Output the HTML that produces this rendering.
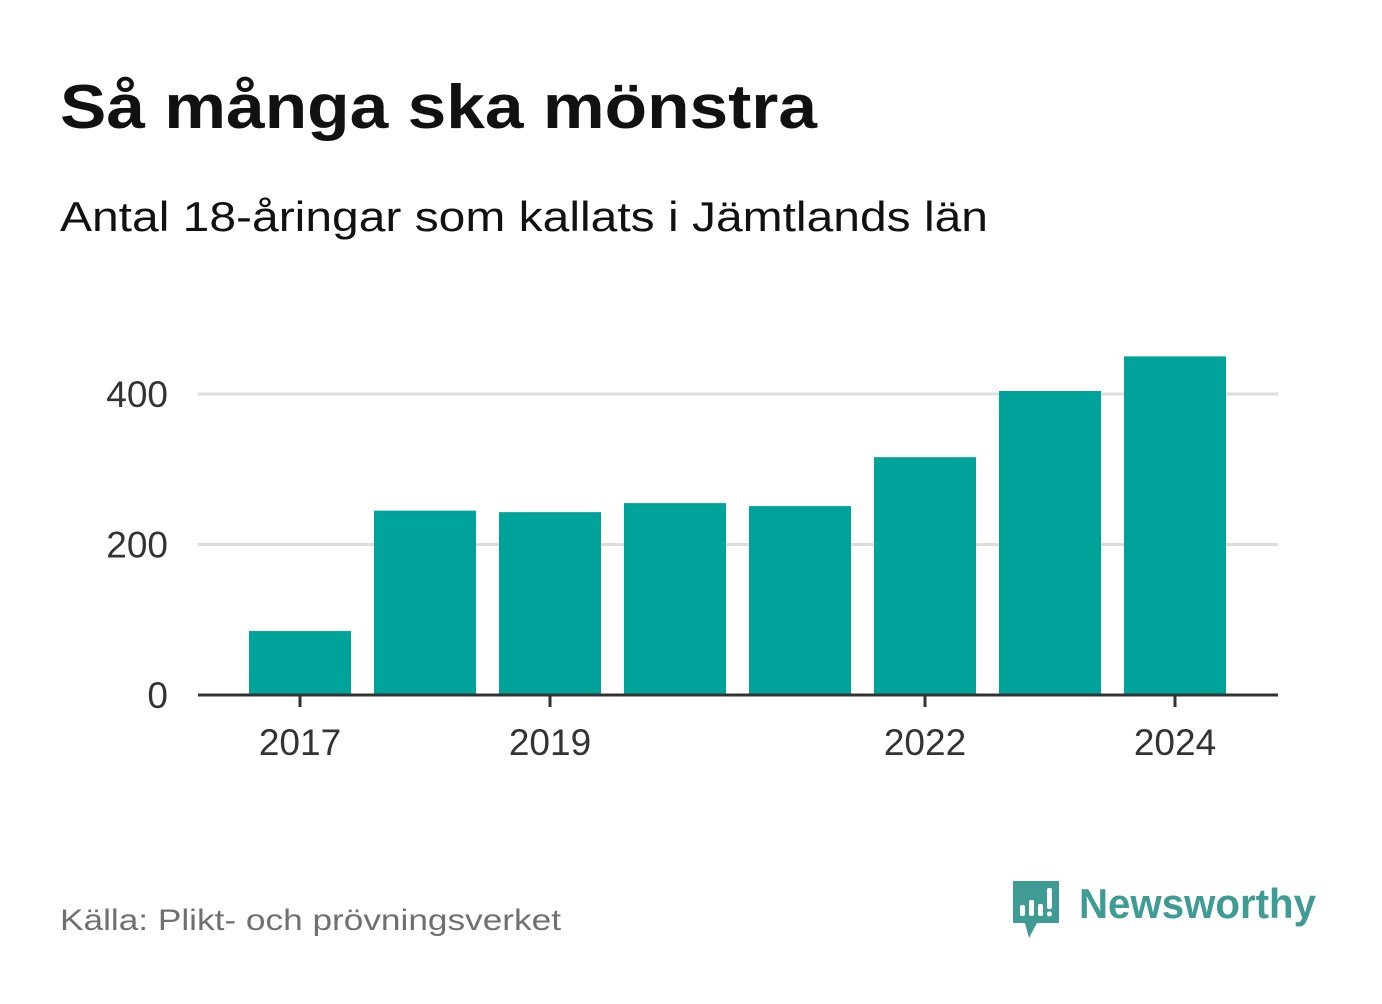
<!DOCTYPE html>
<html><head><meta charset="utf-8"><style>
body{margin:0;background:#fff;width:1382px;height:999px;overflow:hidden;font-family:"Liberation Sans","DejaVu Sans",sans-serif;}
</style></head><body>
<svg width="1382" height="999" xmlns="http://www.w3.org/2000/svg" id="chart">
<text x="60" y="128" font-size="62" font-weight="bold" fill="#111" textLength="757" lengthAdjust="spacingAndGlyphs">Så många ska mönstra</text>
<text x="60" y="231" font-size="42" fill="#111" textLength="928" lengthAdjust="spacingAndGlyphs">Antal 18-åringar som kallats i Jämtlands län</text>
<g id="grid"></g>
<g id="bars"></g>
<g id="axes"></g>
<text x="60" y="930" font-size="30" fill="#707070" textLength="501" lengthAdjust="spacingAndGlyphs">Källa: Plikt- och prövningsverket</text>
<g>
<path d="M1013 881h46v42h-22l-8 15-4-15h-12z" fill="#3f9c94"/>
<rect x="1020" y="905" width="5" height="11" fill="#fff" rx="2"/>
<rect x="1029" y="900" width="5" height="16" fill="#fff" rx="2"/>
<rect x="1038" y="904" width="5" height="12" fill="#fff" rx="2"/>
<rect x="1047" y="888" width="5" height="21" fill="#fff" rx="2"/>
<circle cx="1049.5" cy="914" r="2.5" fill="#fff"/>
<text x="1079" y="918" font-size="42" font-weight="bold" fill="#3f9c94" textLength="237" lengthAdjust="spacingAndGlyphs">Newsworthy</text>
</g>
</svg>
<script>
const years=[2017,2018,2019,2020,2021,2022,2023,2024];
const values=[85,245,243,255,251,316,404,450];
const yTicks=[0,200,400];
const xTickYears=[2017,2019,2022,2024];
const NS="http://www.w3.org/2000/svg";
const y0=695,pxPerUnit=0.7525,x0=300,step=125,bw=102;
const yS=v=>y0-v*pxPerUnit;
const xS=yr=>x0+(yr-years[0])*step;
function mk(t,a,p){const e=document.createElementNS(NS,t);for(const k in a)e.setAttribute(k,a[k]);p.appendChild(e);return e;}
const g=document.getElementById('grid'),b=document.getElementById('bars'),ax=document.getElementById('axes');
yTicks.forEach(v=>{
 if(v>0){const l=mk('line',{x1:198,x2:1278,y1:yS(v),y2:yS(v),stroke:'#ddd','stroke-width':3},g);
 
 }
 const t=mk('text',{x:168,y:yS(v)+13,'font-size':37,fill:'#333','text-anchor':'end'},ax);t.textContent=v;
 
 
});
years.forEach((yr,i)=>{
 const r=mk('rect',{x:xS(yr)-bw/2,y:yS(values[i]),width:bw,height:y0-yS(values[i]),fill:'#00a399'},b);
 
 
});
const base=mk('line',{x1:198,x2:1278,y1:y0,y2:y0,stroke:'#333','stroke-width':3},ax);


xTickYears.forEach(yr=>{
 const tk=mk('line',{x1:xS(yr),x2:xS(yr),y1:y0,y2:y0+12,stroke:'#333','stroke-width':3},ax);
 
 
 const t=mk('text',{x:xS(yr),y:755,'font-size':37,fill:'#333','text-anchor':'middle'},ax);t.textContent=yr;
 
 
});
</script>
</body></html>
